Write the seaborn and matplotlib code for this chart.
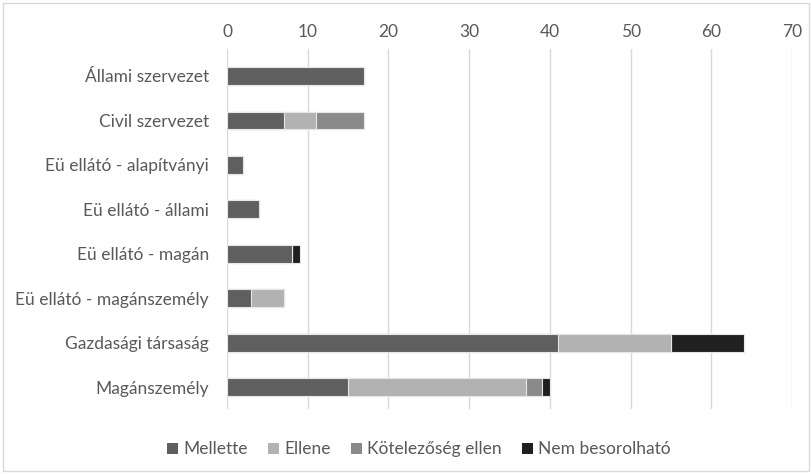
import matplotlib
matplotlib.use("Agg")
import matplotlib.pyplot as plt
from matplotlib.patches import Patch, Rectangle
import seaborn as sns
import pandas as pd

categories = [
    "Állami szervezet",
    "Civil szervezet",
    "Eü ellátó - alapítványi",
    "Eü ellátó - állami",
    "Eü ellátó - magán",
    "Eü ellátó - magánszemély",
    "Gazdasági társaság",
    "Magánszemély",
]
series_names = ["Mellette", "Ellene", "Kötelezőség ellen", "Nem besorolható"]
mellette = [17, 7, 2, 4, 8, 3, 41, 15]
ellene = [0, 4, 0, 0, 0, 4, 14, 22]
kotelezoseg = [0, 6, 0, 0, 0, 0, 0, 2]
nem_besorolhato = [0, 0, 0, 0, 1, 0, 9, 1]
x_ticks = [0, 10, 20, 30, 40, 50, 60, 70]

colors = ["#5f5f5f", "#b2b2b2", "#8a8a8a", "#202020"]
text_color = "#595959"

sns.set_theme(style="white")
plt.rcParams["font.family"] = ["Lato", "DejaVu Sans"]

df = pd.DataFrame(
    {
        "category": categories,
        series_names[0]: mellette,
        series_names[1]: ellene,
        series_names[2]: kotelezoseg,
        series_names[3]: nem_besorolhato,
    }
)
cum = df[series_names].cumsum(axis=1)

fig = plt.figure(figsize=(8.12, 4.73), dpi=100)
ax = fig.add_axes([0.2796, 0.1347, 0.6958, 0.761])

# stacked bars: draw running totals from the outermost segment inwards
for name, color in reversed(list(zip(series_names, colors))):
    sns.barplot(
        x=cum[name], y=df["category"], orient="h", color=color,
        width=0.4, edgecolor="#e6e6e6", linewidth=0.8, ax=ax,
        saturation=1, zorder=3,
    )

ax.set_xlim(0, 70)
ax.set_ylim(7.5, -0.6)
ax.set_xticks(x_ticks)
ax.xaxis.tick_top()
ax.grid(axis="x", color="#d9d9d9", linewidth=1, zorder=0)
ax.grid(axis="y", visible=False)
ax.set_axisbelow(True)
for s in ax.spines.values():
    s.set_visible(False)
ax.set_xlabel("")
ax.set_ylabel("")
ax.tick_params(axis="x", length=0, pad=7, labelsize=12.5, labelcolor=text_color)
ax.tick_params(axis="y", length=0, pad=13, labelsize=12.5, labelcolor=text_color)

handles = [Patch(facecolor=c, edgecolor="none", label=n) for n, c in zip(series_names, colors)]
fig.legend(
    handles=handles, loc="center", bbox_to_anchor=(0.516, 0.05), ncol=4,
    frameon=False, fontsize=12.5, labelcolor=text_color, handlelength=0.6,
    handleheight=0.6, handletextpad=0.3, columnspacing=1.2,
)

fig.add_artist(Rectangle((0.004, 0.004), 0.992, 0.99, transform=fig.transFigure,
                         fill=False, edgecolor="#d9d9d9", linewidth=1))

fig.savefig("out.png", dpi=100, facecolor="white")
